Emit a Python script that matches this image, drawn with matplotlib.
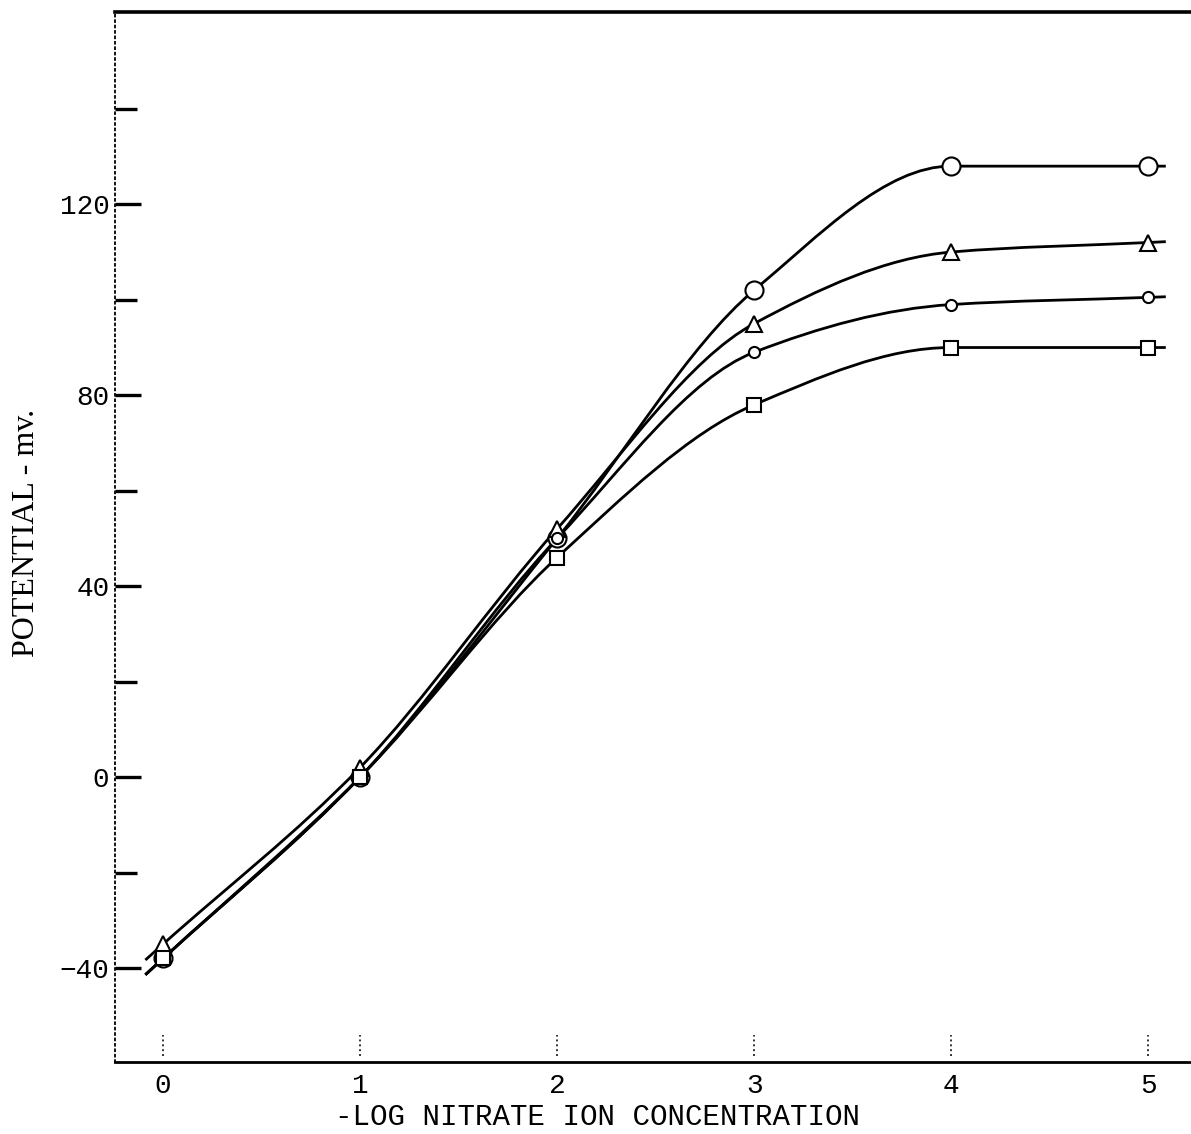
import numpy as np
import matplotlib.pyplot as plt
from matplotlib.path import Path
from matplotlib.patches import PathPatch

# -log [NO3-]
conc = [0, 1, 2, 3, 4, 5]

# potential in mV for the four curves
big_circle = [-38, 0, 50, 102, 128, 128]
triangle = [-35, 2, 52, 95, 110, 112]
small_circle = [-38, 0, 50, 89, 99, 100.5]
square = [-38, 0, 46, 78, 90, 90]

ytick_major = [-40, 0, 40, 80, 120]
ytick_minor = [-20, 20, 60, 100, 140]


def slopes(x, y):
    # Fritsch-Carlson slopes so the curve doesn't overshoot on flat parts
    x = np.asarray(x, float)
    y = np.asarray(y, float)
    d = np.diff(y) / np.diff(x)
    m = np.zeros_like(y)
    m[0] = d[0]
    m[-1] = d[-1]
    for i in range(1, len(y) - 1):
        if d[i - 1] * d[i] <= 0:
            m[i] = 0.0
        else:
            m[i] = 2.0 / (1.0 / d[i - 1] + 1.0 / d[i])
    return m


def smooth_path(x, y, ext=0.09):
    # hand-drawn looking curve: bezier segments through the points
    m = slopes(x, y)
    verts = [(x[0] - ext, y[0] - m[0] * ext), (x[0], y[0])]
    codes = [Path.MOVETO, Path.LINETO]
    for i in range(len(x) - 1):
        h = x[i + 1] - x[i]
        verts += [(x[i] + h / 3, y[i] + m[i] * h / 3),
                  (x[i + 1] - h / 3, y[i + 1] - m[i + 1] * h / 3),
                  (x[i + 1], y[i + 1])]
        codes += [Path.CURVE4] * 3
    verts.append((x[-1] + ext, y[-1] + m[-1] * ext))
    codes.append(Path.LINETO)
    return Path(verts, codes)


fig = plt.figure(figsize=(11.91, 11.34), dpi=100)
ax = fig.add_axes([0.0966, 0.0635, 0.9034, 0.9255])

series = [
    (big_circle, 'o', 13),
    (triangle, '^', 12),
    (small_circle, 'o', 8),
    (square, 's', 10),
]
for vals, mk, ms in series:
    ax.add_patch(PathPatch(smooth_path(conc, vals), fill=False,
                           edgecolor='black', lw=2.0, zorder=2))
    ax.plot(conc, vals, linestyle='none', marker=mk, ms=ms,
            mfc='white', mec='black', mew=1.5, zorder=3)

ax.set_xlim(-0.244, 5.218)
ax.set_ylim(-59.7, 160.2)

ax.spines['right'].set_visible(False)
ax.spines['top'].set_linewidth(2.6)
ax.spines['bottom'].set_linewidth(2.0)
ax.spines['left'].set_linewidth(1.3)
ax.spines['left'].set_linestyle((0, (1, 2)))

mono = 'Liberation Mono'
ax.set_yticks(ytick_major)
ax.set_yticks(ytick_minor, minor=True)
ax.tick_params(axis='y', which='both', direction='in', length=19, width=2.4,
               pad=4, labelsize=20)
ax.tick_params(axis='y', which='minor', length=16)
for lab in ax.get_yticklabels():
    lab.set_family(mono)

ax.set_xticks(conc)
ax.tick_params(axis='x', length=0, pad=8, labelsize=20)
for lab in ax.get_xticklabels():
    lab.set_family(mono)
# faint dotted tick marks that sit just above the axis line
ax.vlines(conc, 0.006, 0.026, transform=ax.get_xaxis_transform(),
          colors='#333333', linestyles=(0, (1, 1.5)), lw=1.4)

fig.text(0.022, 0.53, 'POTENTIAL - mv.', family='Liberation Serif',
         fontsize=23, rotation=90, ha='center', va='center')
fig.text(0.502, 0.015, '-LOG NITRATE ION CONCENTRATION', family=mono,
         fontsize=21, ha='center', va='center')

fig.savefig('out.png', dpi=100)
